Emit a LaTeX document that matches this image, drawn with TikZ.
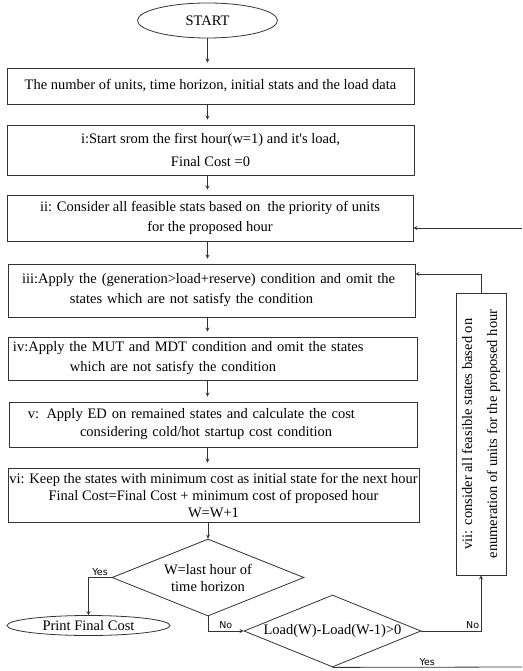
\documentclass[tikz,border=0pt]{standalone}
\usepackage{fontspec}
\setmainfont{Liberation Serif}[Ligatures=TeXOff]
\newfontfamily\tagfont{DejaVu Sans}
\usetikzlibrary{shapes.geometric}
\begin{document}
\begin{tikzpicture}[>=stealth, x=1pt, y=-1pt, line width=0.8pt, draw=black!80,
    font=\fontsize{14.5}{17}\selectfont,
    stepbox/.style={draw, rectangle, inner sep=0pt, align=center},
    term/.style={draw, ellipse, inner sep=0pt},
    test/.style={draw, diamond, aspect=2.5, inner sep=0pt, align=center},
    tag/.style={font=\tagfont\fontsize{9.5}{11}\selectfont, inner sep=1.5pt},
    flow/.style={->, shorten >=5pt}]
  \useasboundingbox (0,0) rectangle (522,671);
  \node[term, minimum width=140pt, minimum height=35pt] (start) at (207.5,20.5) {START};
  \node[stepbox, minimum width=407pt, minimum height=36pt] (data) at (210.5,86) {The number of units, time horizon, initial stats and the load data};
  \node[stepbox, minimum width=407pt, minimum height=50pt] (first) at (210.5,150) {i:Start srom the first hour(w=1) and it's load,\\[6pt] Final Cost =0};
  \node[stepbox, minimum width=406pt, minimum height=46pt] (stats) at (210,218) {ii: Consider all feasible stats based on\ \ the priority of units\\[3pt] for the proposed hour};
  \node[stepbox, align=left, text width=407pt, minimum height=53pt] (reserve) at (211.5,290.5) {\hspace*{14pt}iii:Apply the (generation>load+reserve) condition and omit the\\[3pt] \hspace*{62pt}states which are not satisfy the condition};
  \node[stepbox, align=left, text width=409pt, minimum height=43pt] (mut) at (212.5,358.5) {\hspace*{5pt}iv:Apply the MUT and MDT condition and omit the states\\[3pt] \hspace*{62pt}which are not satisfy the condition};
  \node[stepbox, align=left, text width=408pt, minimum height=45pt] (ed) at (213,424.5) {\hspace*{19pt}v: Apply ED on remained states and calculate the cost\\[1pt] \hspace*{71pt}considering cold/hot startup cost condition};
  \node[stepbox, minimum width=411pt, minimum height=54pt] (keep) at (213.5,495) {vi: Keep the states with minimum cost as initial state for the next hour\\ Final Cost=Final Cost + minimum cost of proposed hour\\ W=W+1};
  \node[test, minimum width=192pt, minimum height=77pt] (last) at (208,577.5) {W=last hour of\\ time horizon};
  \node[term, minimum width=163pt, minimum height=20pt] (print) at (88.5,625.5) {Print Final Cost};
  \node[test, minimum width=177pt, minimum height=72pt] (load) at (332.5,631) {Load(W)-Load(W-1)>0};
  \node[stepbox, rotate=90, minimum width=282pt, minimum height=50pt] (enum) at (481,434) {vii: consider all feasible states based on\\[8pt] enumeration of units for the proposed hour};
  \coordinate (yesend) at (522,667);
  \coordinate (backin) at (522,228);
  \foreach \a/\b in {start/data, data/first, first/stats, stats/reserve, reserve/mut, mut/ed, ed/keep}
    \draw[flow] (\a.south -| start) -- (\b.north -| start);
  \draw[->] (keep.south -| last) -- (last.north);
  \draw[->] (last.west) -| node[tag, pos=0.25, above] {Yes} (print.north);
  \draw[->] (last.south) |- node[tag, pos=0.75, above] {No} (load.west);
  \draw[->] (load.east) -| node[tag, pos=0.5, above left] {No} (enum.west);
  \draw[->] (enum.east) |- ([yshift=16.5pt]reserve.east);
  \draw (load.south) -- node[tag, above] {Yes} (yesend);
  \draw[->] (backin) -- (stats.east |- backin);
\end{tikzpicture}
\end{document}
